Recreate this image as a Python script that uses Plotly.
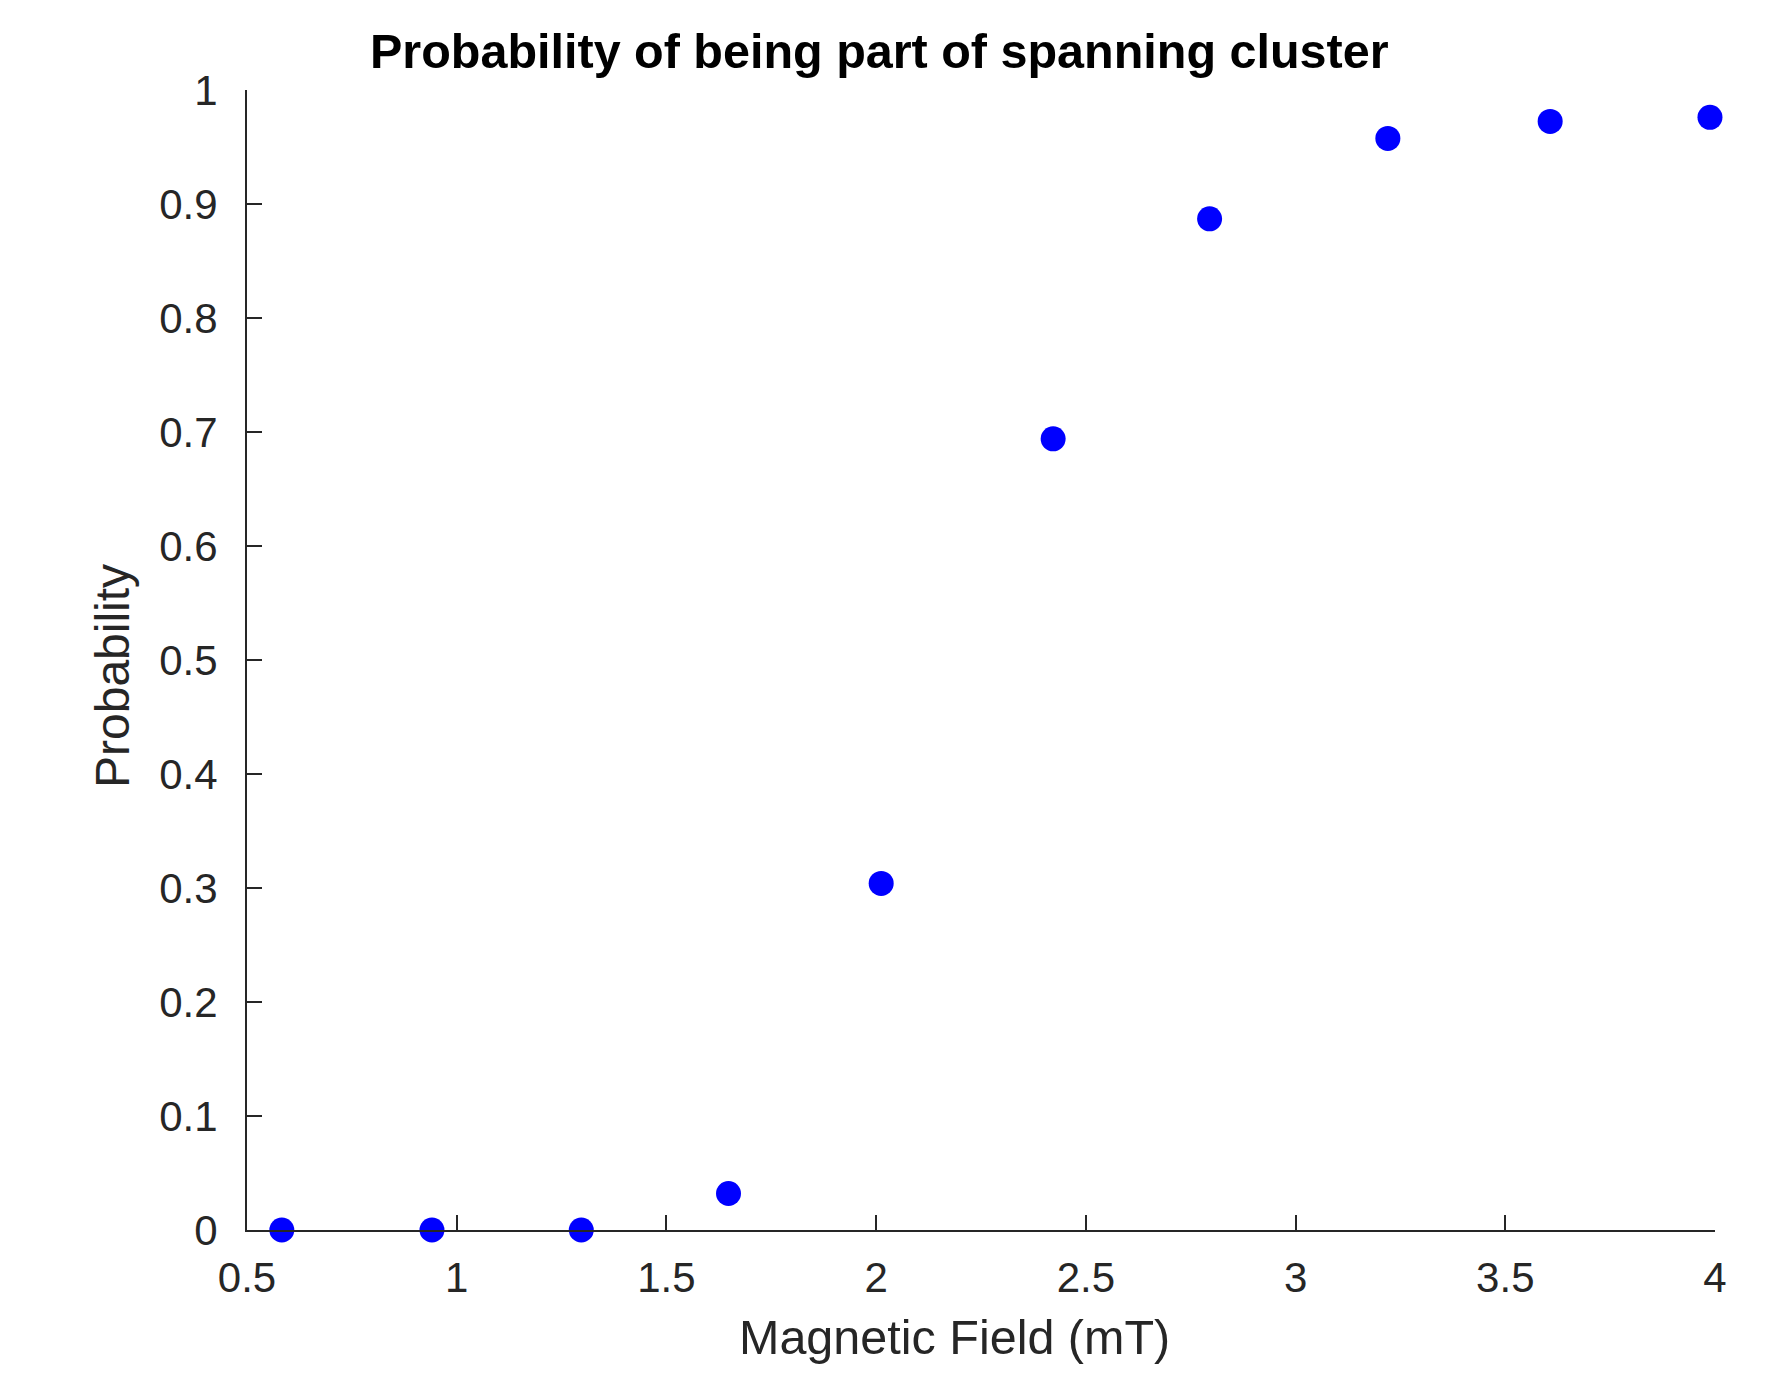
import plotly.graph_objects as go

# Data
field_mT = [0.583, 0.941, 1.297, 1.648, 2.012, 2.422, 2.795, 3.220, 3.607, 3.988]
probability = [0.0, 0.0, 0.0, 0.032, 0.304, 0.694, 0.887, 0.9575, 0.9724, 0.976]

x_ticks = [0.5, 1, 1.5, 2, 2.5, 3, 3.5, 4]
x_tick_labels = ["0.5", "1", "1.5", "2", "2.5", "3", "3.5", "4"]
y_ticks = [0, 0.1, 0.2, 0.3, 0.4, 0.5, 0.6, 0.7, 0.8, 0.9, 1]
y_tick_labels = ["0", "0.1", "0.2", "0.3", "0.4", "0.5", "0.6", "0.7", "0.8", "0.9", "1"]

title_text = "Probability of being part of spanning cluster"
x_label = "Magnetic Field (mT)"
y_label = "Probability"

W, H = 1773, 1376
OFF = 8  # page body margin
# target plot area in screenshot pixels
PX0, PX1, PY0, PY1 = 247, 1715, 90, 1230
L, T = PX0 - OFF, PY0 - OFF
R, B = W - (PX1 - OFF), H - (PY1 - OFF)
PW, PH = PX1 - PX0, PY1 - PY0


def px(xs):
    return (xs - PX0) / PW


def py(ys):
    return (PY1 - ys) / PH


axis_col = "#262626"
font_fam = "Liberation Sans, Arial, Helvetica, sans-serif"

fig = go.Figure()
fig.add_trace(go.Scatter(
    x=field_mT, y=probability, mode="markers",
    marker=dict(size=25, color="#0000FF", line=dict(width=0)),
    cliponaxis=False, showlegend=False,
))

fig.update_layout(
    width=W, height=H,
    margin=dict(l=L, r=R, t=T, b=B, pad=0),
    paper_bgcolor="white", plot_bgcolor="white",
    font=dict(family=font_fam, color=axis_col),
    xaxis=dict(
        range=[0.5, 4], tickvals=x_ticks, ticktext=x_tick_labels,
        showgrid=False, zeroline=False, showline=True, linecolor=axis_col, linewidth=2,
        ticks="inside", ticklen=15, tickwidth=2, tickcolor=axis_col,
        tickfont=dict(size=42, color=axis_col, family=font_fam),
        ticklabelstandoff=10,
    ),
    yaxis=dict(
        range=[0, 1], tickvals=y_ticks, ticktext=y_tick_labels,
        showgrid=False, zeroline=False, showline=True, linecolor=axis_col, linewidth=2,
        ticks="inside", ticklen=15, tickwidth=2, tickcolor=axis_col,
        tickfont=dict(size=42, color=axis_col, family=font_fam),
        ticklabelstandoff=19,
    ),
    annotations=[
        dict(text="<b>" + title_text + "</b>", xref="paper", yref="paper",
             x=px(879), y=py(51),
             xanchor="center", yanchor="middle", showarrow=False,
             font=dict(size=48.5, color="black", family=font_fam)),
        dict(text=x_label, xref="paper", yref="paper",
             x=px(954), y=py(1337),
             xanchor="center", yanchor="middle", showarrow=False,
             font=dict(size=48.5, color=axis_col, family=font_fam)),
        dict(text=y_label, xref="paper", yref="paper",
             x=px(112), y=py(676),
             xanchor="center", yanchor="middle", showarrow=False, textangle=-90,
             font=dict(size=48, color=axis_col, family=font_fam)),
    ],
)

fig.write_html("out.html")
